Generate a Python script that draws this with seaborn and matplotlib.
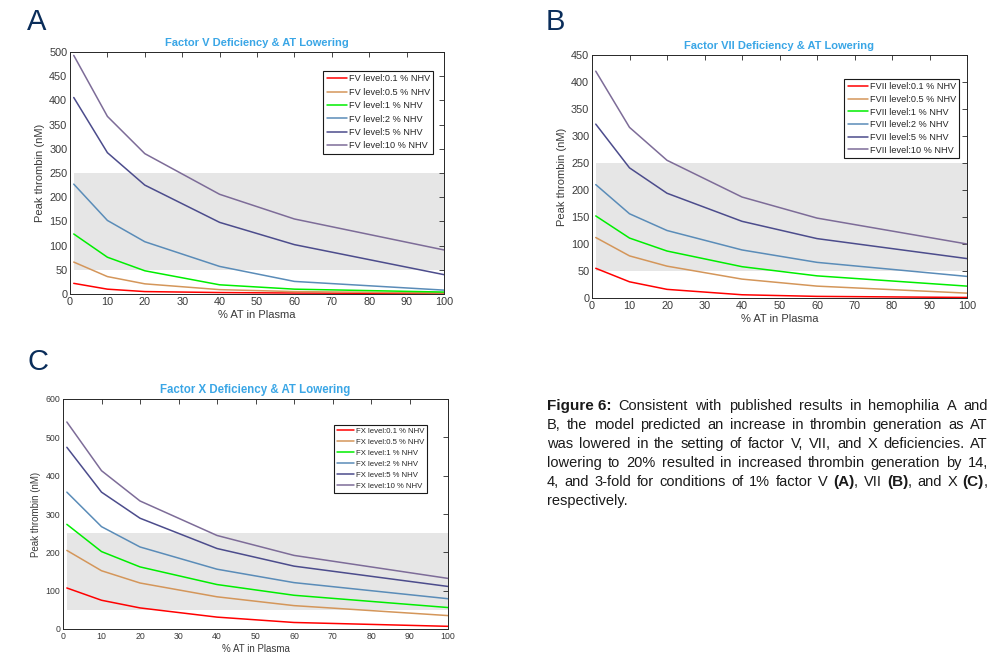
import numpy as np
import pandas as pd
import matplotlib
matplotlib.use("Agg")
import matplotlib.pyplot as plt
import seaborn as sns

# ---------------- data ----------------
at_pct = [1, 10, 20, 40, 60, 100]
levels = ["0.1", "0.5", "1", "2", "5", "10"]

fv_vals = {
    "0.1": [22, 10, 5, 3, 2, 1],
    "0.5": [66, 36, 21, 9, 5, 2],
    "1":   [124, 76, 48, 19, 10, 4],
    "2":   [227, 152, 108, 57, 26, 8],
    "5":   [406, 292, 225, 148, 102, 40],
    "10":  [493, 367, 290, 206, 155, 91],
}
fvii_vals = {
    "0.1": [55, 30, 16, 6, 3, 1],
    "0.5": [112, 78, 59, 35, 22, 9],
    "1":   [152, 111, 87, 58, 41, 22],
    "2":   [210, 156, 125, 89, 66, 40],
    "5":   [322, 241, 194, 142, 110, 73],
    "10":  [420, 316, 255, 187, 148, 100],
}
fx_vals = {
    "0.1": [107, 75, 55, 31, 17, 7],
    "0.5": [205, 152, 120, 84, 61, 35],
    "1":   [273, 202, 162, 116, 88, 56],
    "2":   [357, 267, 214, 156, 121, 79],
    "5":   [474, 357, 289, 210, 164, 111],
    "10":  [540, 413, 334, 244, 192, 132],
}

band_x = [1, 100]
band_low, band_high = 50, 250

titles = ["Factor V Deficiency & AT Lowering",
          "Factor VII Deficiency & AT Lowering",
          "Factor X Deficiency & AT Lowering"]
prefixes = ["FV", "FVII", "FX"]
ylims = [500, 450, 600]
yticks = [np.arange(0, 501, 50), np.arange(0, 451, 50), np.arange(0, 601, 100)]
xticks = np.arange(0, 101, 10)
panel_letters = ["A", "B", "C"]

palette = ["#ff0000", "#d4965a", "#00ee00", "#5a8cb8", "#4c4c8c", "#7d6c98"]

# ---------------- figure ----------------
sns.set_theme(style="white")
plt.rcParams["font.family"] = ["Liberation Sans", "DejaVu Sans"]

W, H = 996, 653
fig = plt.figure(figsize=(W / 100, H / 100), dpi=100)

def px_axes(left, top, right, bottom):
    return fig.add_axes([left / W, 1 - bottom / H, (right - left) / W, (bottom - top) / H])

axes_px = [(70, 52, 444, 294), (592, 55, 967, 298), (63, 399, 448, 629)]
legend_anchor = [(0.971, 0.921), (0.979, 0.901), (0.945, 0.887)]
tick_fs = [7.8, 7.8, 6.3]
label_fs = [8, 8, 7]
title_fs = [8, 8, 8.3]
leg_fs = [6.6, 6.6, 5.6]
leg_spacing = [0.48, 0.4, 0.45]
letter_pos = [(27, 8), (546, 8), (27, 348)]

datasets = [fv_vals, fvii_vals, fx_vals]

for i in range(3):
    ax = px_axes(*axes_px[i])
    rows = []
    for lv in levels:
        for x, y in zip(at_pct, datasets[i][lv]):
            rows.append({"AT": x, "thrombin": y,
                         "level": f"{prefixes[i]} level:{lv} % NHV"})
    df = pd.DataFrame(rows)
    ax.fill_between(band_x, band_low, band_high, color="#e6e6e6", lw=0, zorder=0)
    sns.lineplot(data=df, x="AT", y="thrombin", hue="level", palette=palette,
                 ax=ax, linewidth=1.1, zorder=3)
    ax.set_xlim(0, 100)
    ax.set_ylim(0, ylims[i])
    ax.set_xticks(xticks)
    ax.set_yticks(yticks[i])
    ax.tick_params(direction="in", top=True, right=True, length=3.5, width=0.6,
                   labelsize=tick_fs[i], colors="#262626", labelcolor="#3a3a3a", pad=2)
    for s in ax.spines.values():
        s.set_color("#262626")
        s.set_linewidth(0.7)
    ax.set_xlabel("% AT in Plasma", fontsize=label_fs[i], color="#3a3a3a", labelpad=2)
    ax.set_ylabel("Peak thrombin (nM)", fontsize=label_fs[i], color="#3a3a3a", labelpad=3)
    ax.set_title(titles[i], fontsize=title_fs[i], fontweight="bold", color="#3aa6e6", pad=4)
    handles, labels = ax.get_legend_handles_labels()
    leg = ax.legend(handles, labels, loc="upper right", bbox_to_anchor=legend_anchor[i],
                    fontsize=leg_fs[i], frameon=True, fancybox=False, framealpha=1,
                    edgecolor="#1a1a1a", borderpad=0.35, labelspacing=leg_spacing[i],
                    handlelength=2.2, handletextpad=0.2, borderaxespad=0)
    leg.get_frame().set_linewidth(0.8)
    for t in leg.get_texts():
        t.set_color("#262626")
    fig.text(letter_pos[i][0] / W, 1 - letter_pos[i][1] / H, panel_letters[i],
             fontsize=21, color="#0a2d5a", ha="left", va="top")

# ---------------- caption (justified) ----------------
cap_lines = [
    [("Figure 6:", True), ("Consistent", False), ("with", False), ("published", False),
     ("results", False), ("in", False), ("hemophilia", False), ("A", False), ("and", False)],
    [("B,", False), ("the", False), ("model", False), ("predicted", False), ("an", False),
     ("increase", False), ("in", False), ("thrombin", False), ("generation", False),
     ("as", False), ("AT", False)],
    [("was", False), ("lowered", False), ("in", False), ("the", False), ("setting", False),
     ("of", False), ("factor", False), ("V,", False), ("VII,", False), ("and", False),
     ("X", False), ("deficiencies.", False), ("AT", False)],
    [("lowering", False), ("to", False), ("20%", False), ("resulted", False), ("in", False),
     ("increased", False), ("thrombin", False), ("generation", False), ("by", False),
     ("14,", False)],
    [("4,", False), ("and", False), ("3-fold", False), ("for", False), ("conditions", False),
     ("of", False), ("1%", False), ("factor", False), ("V", False), ("(A)", True),
     (",", False), ("VII", False), ("(B)", True), (",", False), ("and", False), ("X", False),
     ("(C)", True), (",", False)],
    [("respectively.", False)],
]
cap_left, cap_right = 547, 988
cap_top = 406
cap_step = 18.9
cap_fs = 10.5
cap_fs_bold = 11.0

renderer = fig.canvas.get_renderer()
for li, line in enumerate(cap_lines):
    y = 1 - (cap_top + li * cap_step) / H
    tokens = []
    for word, bold in line:
        if word == "," and tokens:
            tokens[-1].append((word, bold))
        else:
            tokens.append([(word, bold)])
    widths = []
    for tok in tokens:
        w = 0
        for word, bold in tok:
            t = fig.text(0, 0, word, fontsize=cap_fs_bold if bold else cap_fs,
                         fontweight="bold" if bold else "normal")
            w += t.get_window_extent(renderer).width
            t.remove()
        widths.append(w)
    total = cap_right - cap_left
    last = li == len(cap_lines) - 1
    if last or len(tokens) == 1:
        gap = cap_fs * 0.28 * 100 / 72
    else:
        gap = (total - sum(widths)) / (len(tokens) - 1)
    x = cap_left
    for tok, w in zip(tokens, widths):
        xx = x
        for word, bold in tok:
            t = fig.text(xx / W, y, word, fontsize=cap_fs_bold if bold else cap_fs,
                         fontweight="bold" if bold else "normal",
                         color="#1a1a1a", ha="left", va="center")
            xx += t.get_window_extent(renderer).width
        x += w + gap

fig.savefig("out.png", dpi=100)
